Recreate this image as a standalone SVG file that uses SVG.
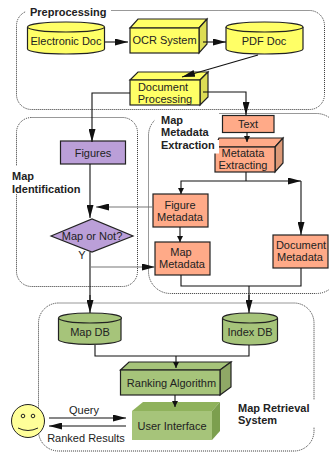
<svg xmlns="http://www.w3.org/2000/svg" width="329" height="452" viewBox="0 0 329 452">
<style>
text{font-family:"Liberation Sans",Arial,sans-serif;font-size:11px;fill:#222;text-anchor:middle}
.t{font-weight:bold;text-anchor:start;fill:#222}
.g{fill:none;stroke:#333;stroke-width:1;stroke-dasharray:1 1}
.e{fill:#fff;stroke:none}
.y{fill:#ffff66;stroke:#222;stroke-width:1.2}
.yd{fill:#dddd55;stroke:#222;stroke-width:1.2}
.o{fill:#ffaa88;stroke:#222;stroke-width:1.2}
.od{fill:#dd9977;stroke:#222;stroke-width:1.2}
.p{fill:#bb9fd8;stroke:#222;stroke-width:1.2}
.gr{fill:#a6c47a;stroke:#222;stroke-width:1.2}
.grd{fill:#8fa866;stroke:#222;stroke-width:1.2}
.l{fill:none;stroke:#111;stroke-width:1.1}
.lg{fill:none;stroke:#777;stroke-width:1.1}
</style>
<defs>
<marker id="a" markerUnits="userSpaceOnUse" markerWidth="13" markerHeight="7" refX="13" refY="3.5" orient="auto"><path d="M0 0L13 3.5L0 7Z" fill="#111"/></marker>
<marker id="s" markerUnits="userSpaceOnUse" markerWidth="6" markerHeight="6" refX="6" refY="3" orient="auto"><path d="M0 0L6 3L0 6Z" fill="#111"/></marker>
</defs>
<g id="regions">
<rect class="g" x="16.500" y="10.500" width="308" height="99" rx="15"/>
<rect class="e" x="26" y="5" width="85" height="12"/>
<rect class="g" x="16.500" y="117.500" width="121" height="169" rx="15"/>
<rect class="e" x="10" y="166" width="72" height="28"/>
<rect class="g" x="148.500" y="113.500" width="190" height="180" rx="22"/>
<rect class="e" x="155" y="112" width="64" height="30"/>
<rect class="g" x="38.500" y="303" width="275.500" height="148" rx="20"/>
<rect class="e" x="236" y="400" width="80" height="27"/>
</g>
<text class="t" x="30" y="16">Preprocessing</text>
<text class="t" x="12" y="180">Map</text>
<text class="t" x="12" y="193">Identification</text>
<text class="t" x="238" y="412">Map Retrieval</text>
<text class="t" x="238" y="424">System</text>
<g id="electronic-doc">
<path class="y" d="M27.500 27V49A38.500 5 0 0 0 104.500 49V27"/>
<ellipse class="y" cx="66" cy="27" rx="38.500" ry="5"/>
<text x="66" y="45">Electronic Doc</text>
</g>
<g id="ocr-system">
<path class="y" d="M130 28L138 19H207L199 28Z"/>
<path class="yd" d="M199 28L207 19V44L199 53Z"/>
<rect class="y" x="130" y="28" width="69" height="25"/>
<text x="164.500" y="44">OCR System</text>
</g>
<g id="pdf-doc">
<path class="y" d="M226 27V49A38.500 5 0 0 0 303 49V27"/>
<ellipse class="y" cx="264.500" cy="27" rx="38.500" ry="5"/>
<text x="264" y="45">PDF Doc</text>
</g>
<g id="document-processing">
<path class="y" d="M130 80L138 72H208L200 80Z"/>
<path class="yd" d="M200 80L208 72V97L200 105Z"/>
<rect class="y" x="130" y="80" width="70" height="25"/>
<text x="163" y="91">Document</text>
<text x="165" y="103">Processing</text>
</g>
<g id="text-node">
<rect class="o" x="222.500" y="115.500" width="51.500" height="17"/>
<text x="248" y="127.500">Text</text>
</g>
<g id="metadata-extracting">
<path class="o" d="M219 138H283L275 147H215Z"/>
<path class="od" d="M275 147L283 138V163L275 172Z"/>
<rect class="o" x="215" y="147" width="60" height="25"/>
<rect class="e" x="155" y="140" width="64" height="13.500"/>
<text x="243" y="157">Metatata</text>
<text x="243" y="169">Extracting</text>
</g>
<text class="t" x="161" y="124">Map</text>
<text class="t" x="161" y="136">Metadata</text>
<text class="t" x="161" y="149">Extraction</text>
<g id="figures">
<rect class="p" x="60.500" y="141" width="65" height="23"/>
<text x="93" y="157">Figures</text>
</g>
<g id="map-or-not">
<path class="p" d="M51 236L92 219L133 236L92 252Z"/>
<text x="92" y="240">Map or Not?</text>
<text x="82" y="259">Y</text>
</g>
<g id="figure-metadata">
<rect class="o" x="153" y="194" width="55" height="33"/>
<text x="180" y="209">Figure</text>
<text x="180" y="221">Metadata</text>
</g>
<g id="map-metadata">
<rect class="o" x="155" y="242" width="55" height="33"/>
<text x="181" y="256">Map</text>
<text x="182" y="268">Metadata</text>
</g>
<g id="document-metadata">
<rect class="o" x="273" y="235" width="55" height="33"/>
<text x="301" y="249">Document</text>
<text x="300" y="261">Metadata</text>
</g>
<g id="map-db">
<path class="gr" d="M58.500 318V340A31.500 5 0 0 0 121 340V318"/>
<ellipse class="gr" cx="90" cy="318" rx="31.500" ry="5"/>
<text x="90" y="336">Map DB</text>
</g>
<g id="index-db">
<path class="gr" d="M222.500 318V340A27.500 5 0 0 0 277.500 340V318"/>
<ellipse class="gr" cx="250" cy="318" rx="27.500" ry="5"/>
<text x="250" y="336">Index DB</text>
</g>
<g id="ranking-algorithm">
<path class="gr" d="M120.500 370L129 362H231L220 370Z"/>
<path class="grd" d="M220 370L231 362V387L220 395Z"/>
<rect class="gr" x="120.500" y="370" width="99.500" height="25"/>
<text x="171.500" y="387">Ranking Algorithm</text>
</g>
<g id="user-interface">
<path d="M132 411L143 402H220L212 411Z" fill="#8fb25c"/>
<path d="M212 411L220 402V431L212 440Z" fill="#7c9f4e"/>
<rect x="132" y="411" width="80" height="29" fill="#a6c47a"/>
<text x="172" y="430">User Interface</text>
</g>
<g id="user">
<circle cx="28" cy="421" r="16.500" fill="#ffff99" stroke="#222"/>
<circle cx="23" cy="416" r="1.800" fill="none" stroke="#222"/>
<circle cx="33" cy="416" r="1.800" fill="none" stroke="#222"/>
<path d="M18 428Q28 433 38 428" fill="none" stroke="#222"/>
</g>
<text x="84" y="414">Query</text>
<text x="86" y="442">Ranked Results</text>
<g id="connectors">
<path class="l" d="M105 42H128" marker-end="url(#a)"/>
<path class="l" d="M203 42H226" marker-end="url(#a)"/>
<path class="l" d="M258 55L182 77" marker-end="url(#a)"/>
<path class="l" d="M130 93H92V142" marker-end="url(#a)"/>
<path class="l" d="M203 92H246V115" marker-end="url(#a)"/>
<path class="l" d="M247 132V142" marker-end="url(#s)"/>
<path class="l" d="M90 164V218" marker-end="url(#a)"/>
<path class="lg" d="M153 207H96" marker-end="url(#a)"/>
<path class="l" d="M90 252V303"/>
<path class="lg" d="M91 267H155" marker-end="url(#a)"/>
<path class="l" d="M246 172V181"/>
<path class="l" d="M246 181H181V194" marker-end="url(#s)"/>
<path class="l" d="M246 181H301" marker-end="url(#a)"/>
<path class="l" d="M301 181V235" marker-end="url(#a)"/>
<path class="l" d="M180 227V242" marker-end="url(#s)"/>
<path class="l" d="M181 275V286H301V268M249 286V303"/>
<path class="l" d="M90 295V313" marker-end="url(#a)"/>
<path class="l" d="M249 295V313" marker-end="url(#a)"/>
<path class="l" d="M95 345V356H249V345"/>
<path class="l" d="M176 356V368" marker-end="url(#s)"/>
<path class="l" d="M175 395V407" marker-end="url(#s)"/>
<path class="l" d="M49 418H126" marker-end="url(#a)"/>
<path class="l" d="M126 426H49" marker-end="url(#a)"/>
</g>
</svg>
